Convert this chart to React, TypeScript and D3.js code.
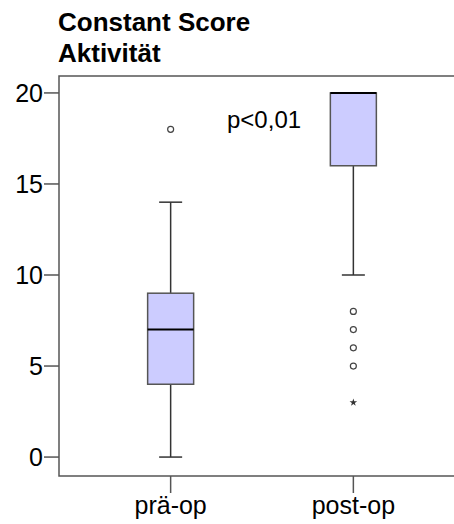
import React from 'react'
import * as d3 from 'd3'

const groups = ['prä-op', 'post-op']
const lowWhisker = [0, 10]
const q1 = [4, 16]
const medians = [7, 20]
const q3 = [9, 20]
const highWhisker = [14, 20]
const outliers = [[18], [8, 7, 6, 5]]
const extremes = [[], [3]]
const yTicks = [0, 5, 10, 15, 20]

const W = 454
const H = 524
const left = 59
const top = 76
const bottom = 476
const right = 465

const font = 'Arial, "Liberation Sans", sans-serif'

const App = () => {
  const x = d3.scalePoint().domain(groups).range([left, right]).padding(0.611)
  const y = d3.scaleLinear().domain([-1.04, 20.93]).range([bottom, top])

  const boxW = 46
  const capW = 23
  const axisColor = '#555'

  const star = d3.symbol().type(d3.symbolStar).size(18)

  return (
    <svg width={W} height={H} style={{ position: 'absolute', left: 0, top: 0 }} fontFamily={font}>
      <rect width={W} height={H} fill="#fff" />
      <text x={58} y={31} fontSize={26} fontWeight="bold">Constant Score</text>
      <text x={58} y={62} fontSize={26} fontWeight="bold">Aktivität</text>

      {/* frame */}
      <path d={`M${right},${top}H${left}V${bottom}H${right}`} fill="none" stroke={axisColor} strokeWidth={1.5} />

      {yTicks.map(t => (
        <g key={t}>
          <line x1={left - 15} x2={left} y1={y(t)} y2={y(t)} stroke={axisColor} strokeWidth={1.5} />
          <text x={left - 16} y={y(t)} dy="0.36em" textAnchor="end" fontSize={25}>{t}</text>
        </g>
      ))}

      {groups.map(g => (
        <g key={g}>
          <line x1={x(g)} x2={x(g)} y1={bottom} y2={bottom + 17} stroke={axisColor} strokeWidth={1.5} />
          <text x={x(g)} y={514} textAnchor="middle" fontSize={25}>{g}</text>
        </g>
      ))}

      <text x={227} y={128} fontSize={24}>p&lt;0,01</text>

      {groups.map((g, i) => {
        const cx = x(g) as number
        return (
          <g key={g}>
            <line x1={cx} x2={cx} y1={y(lowWhisker[i])} y2={y(q1[i])} stroke="#333" strokeWidth={1.5} />
            <line x1={cx} x2={cx} y1={y(q3[i])} y2={y(highWhisker[i])} stroke="#333" strokeWidth={1.5} />
            <line x1={cx - capW / 2} x2={cx + capW / 2} y1={y(lowWhisker[i])} y2={y(lowWhisker[i])} stroke="#333" strokeWidth={1.5} />
            <line x1={cx - capW / 2} x2={cx + capW / 2} y1={y(highWhisker[i])} y2={y(highWhisker[i])} stroke="#333" strokeWidth={1.5} />
            <rect x={cx - boxW / 2} y={y(q3[i])} width={boxW} height={y(q1[i]) - y(q3[i])}
              fill="#ccccff" stroke="#555" strokeWidth={1.5} />
            <line x1={cx - boxW / 2} x2={cx + boxW / 2} y1={y(medians[i])} y2={y(medians[i])} stroke="#000" strokeWidth={2} />
            {outliers[i].map((v, j) => (
              <circle key={j} cx={cx} cy={y(v)} r={3} fill="#fff" stroke="#444" strokeWidth={1.2} />
            ))}
            {extremes[i].map((v, j) => (
              <path key={j} d={star() as string} transform={`translate(${cx},${y(v)})`} fill="#333" />
            ))}
          </g>
        )
      })}
    </svg>
  )
}

export default App
